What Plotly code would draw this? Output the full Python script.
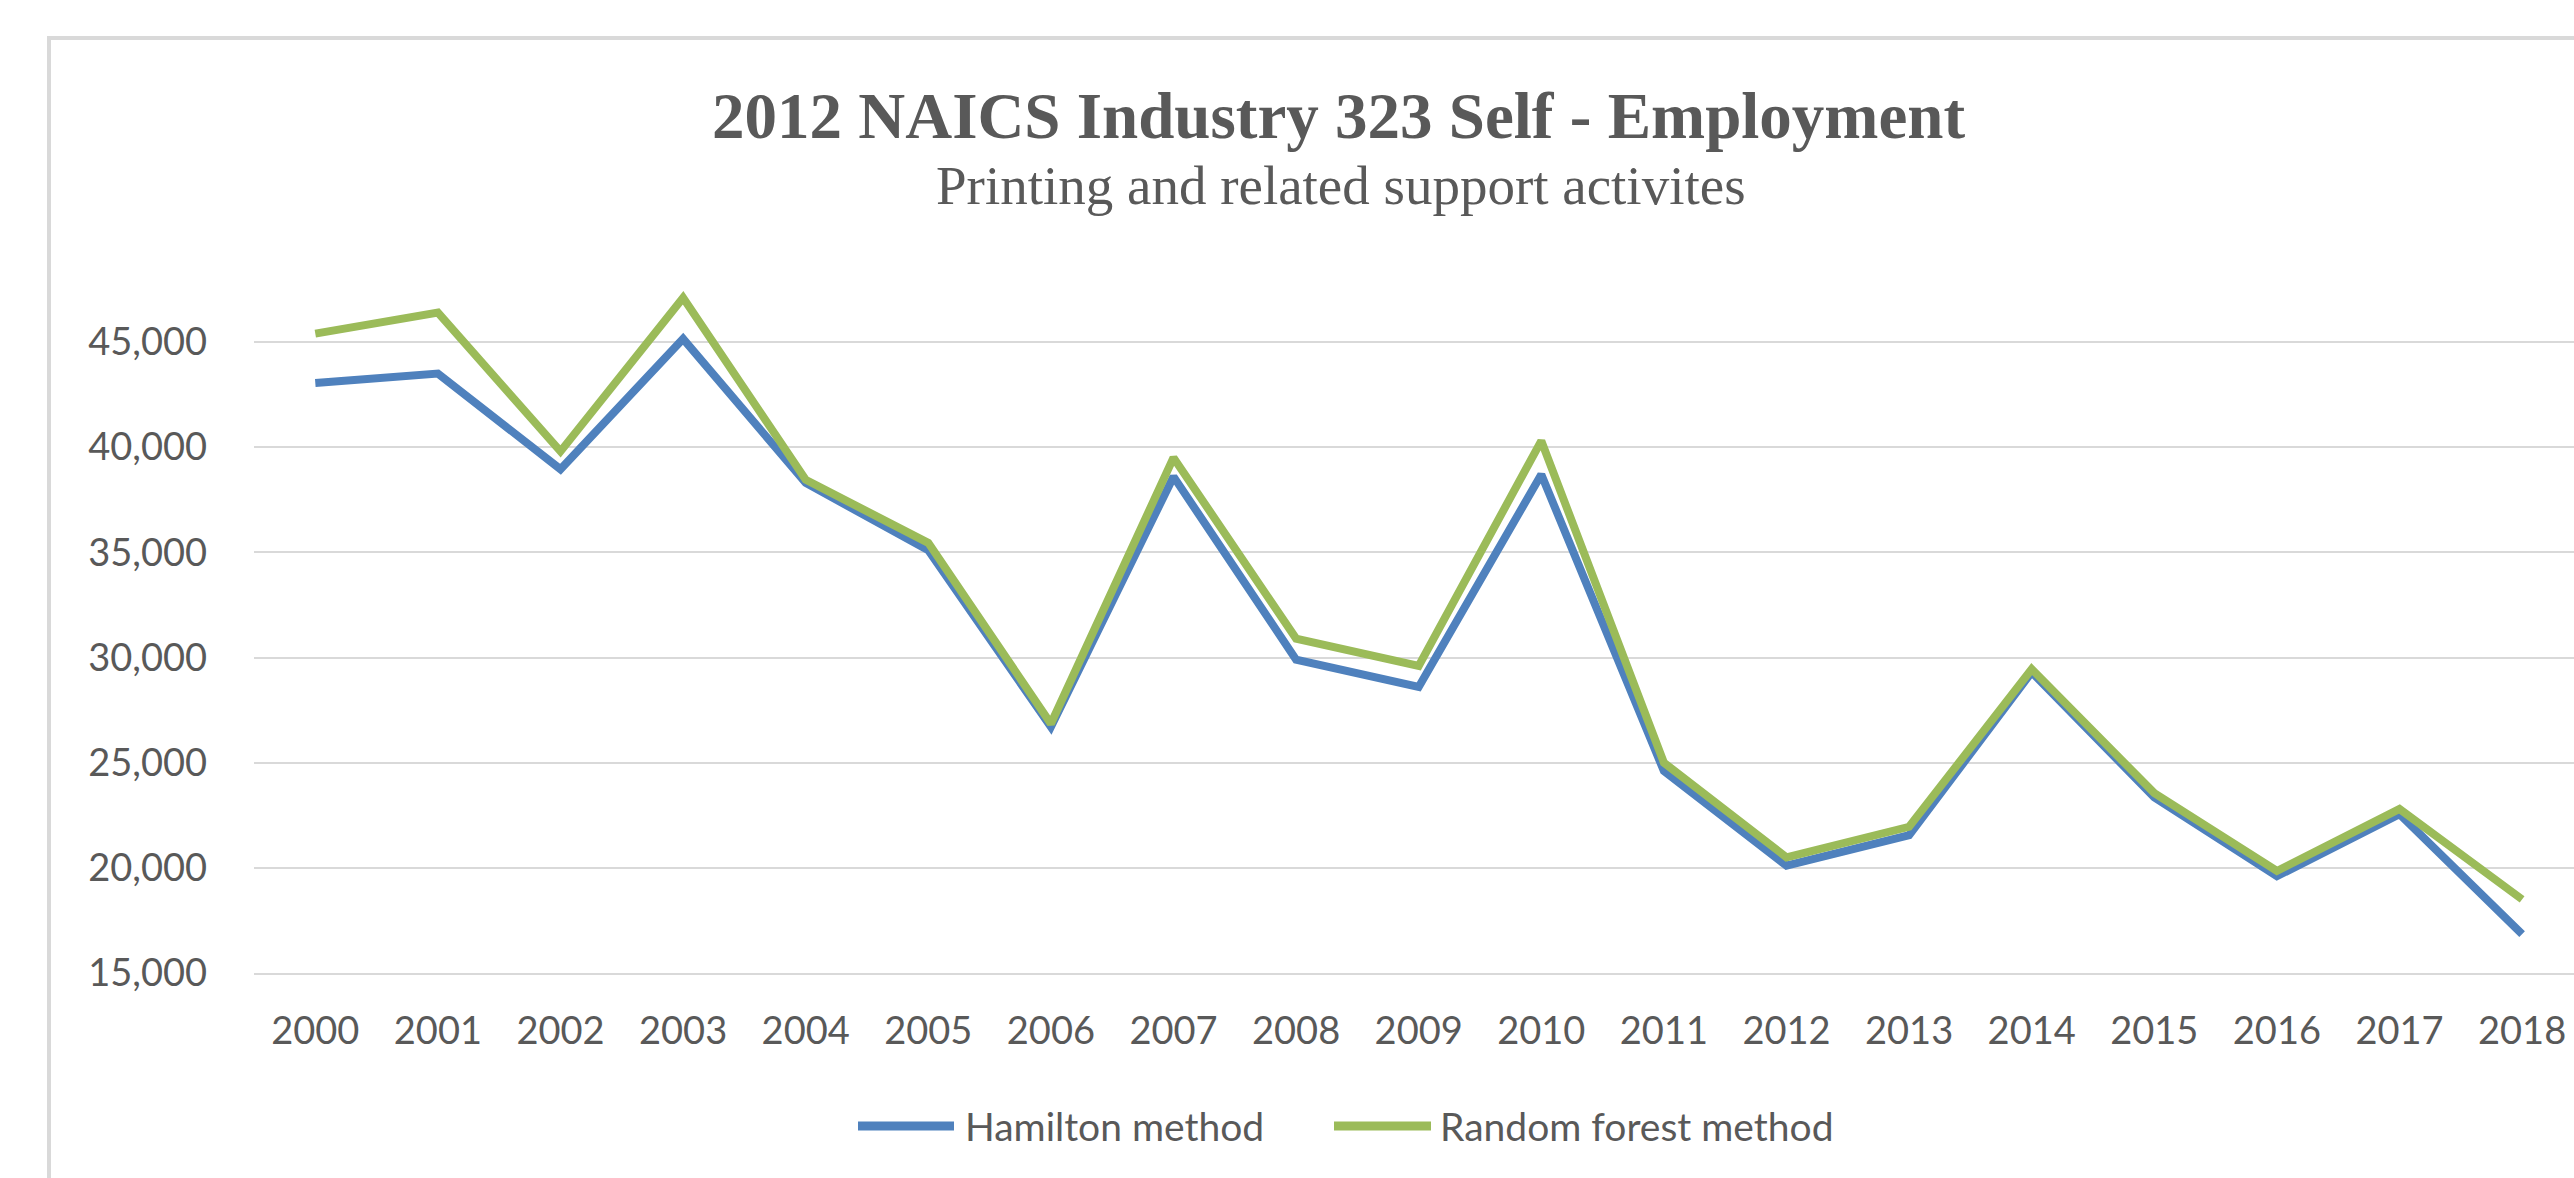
import plotly.graph_objects as go

# Self-employment estimates, NAICS 323 (Printing and related support activities)
years = list(range(2000, 2019))
hamilton = [43050, 43500, 38950, 45150, 38300, 35100, 26700, 38600, 29900, 28600,
            38700, 24600, 20100, 21550, 29300, 23350, 19600, 22550, 16850]
random_forest = [45400, 46400, 39800, 47100, 38450, 35450, 26850, 39500, 30900, 29600,
                 40300, 25000, 20500, 21950, 29450, 23550, 19850, 22800, 18500]

series_names = ["Hamilton method", "Random forest method"]
series_colors = ["#4F81BD", "#9BBB59"]
y_ticks = [15000, 20000, 25000, 30000, 35000, 40000, 45000]

title_text = "2012 NAICS Industry 323 Self - Employment"
subtitle_text = "Printing and related support activites"

W, H = 2574, 1178
ML, MR, MT, MB = 254, 0, 250, 205
plot_w = W - ML - MR
plot_h = H - MT - MB
px_per_cat = 122.6
y_min = 15000
y_max = y_min + plot_h / 0.021033


def px_x(x):
    return (x - ML) / plot_w


def px_y(y):
    return (H - MB - y) / plot_h


fig = go.Figure()
for name, vals, col in zip(series_names, [hamilton, random_forest], series_colors):
    fig.add_trace(go.Scatter(
        x=years, y=vals, name=name, mode="lines",
        line=dict(color=col, width=8),
        showlegend=False,
    ))

tick_font = dict(family="Lato", size=38, color="#595959")

fig.update_layout(
    width=W, height=H,
    margin=dict(l=ML, r=MR, t=MT, b=MB),
    paper_bgcolor="white", plot_bgcolor="white",
    xaxis=dict(
        range=[1999.5, 1999.5 + plot_w / px_per_cat],
        tickvals=years, ticktext=[str(y) for y in years],
        showgrid=False, zeroline=False,
        showline=True, linecolor="#D9D9D9", linewidth=2,
        ticks="", tickfont=tick_font, ticklabelstandoff=23,
    ),
    yaxis=dict(
        range=[y_min, y_max],
        tickvals=y_ticks, tickformat=",d",
        showgrid=True, gridcolor="#D9D9D9", gridwidth=2,
        zeroline=False, showline=False,
        ticks="", tickfont=tick_font, ticklabelstandoff=46,
    ),
    showlegend=False,
)

# Chart border
fig.add_shape(type="rect", xref="paper", yref="paper",
              x0=px_x(49), x1=px_x(2700), y0=px_y(1300), y1=px_y(38),
              line=dict(color="#D9D9D9", width=4), layer="below")

# Titles
fig.add_annotation(text="<b>" + title_text + "</b>", xref="paper", yref="paper",
                   x=px_x(1339), y=px_y(116), xanchor="center", yanchor="middle",
                   showarrow=False,
                   font=dict(family="Liberation Serif", size=65, color="#595959"))
fig.add_annotation(text=subtitle_text, xref="paper", yref="paper",
                   x=px_x(1341), y=px_y(185), xanchor="center", yanchor="middle",
                   showarrow=False,
                   font=dict(family="Liberation Serif", size=55, color="#595959"))

# Legend
legend_y = px_y(1126)
legend_items = [(858, 954, 963), (1334, 1431, 1438)]
for (lx0, lx1, tx), name, col in zip(legend_items, series_names, series_colors):
    fig.add_shape(type="line", xref="paper", yref="paper",
                  x0=px_x(lx0), x1=px_x(lx1), y0=legend_y, y1=legend_y,
                  line=dict(color=col, width=9))
    fig.add_annotation(text=name, xref="paper", yref="paper",
                       x=px_x(tx), y=legend_y, xanchor="left", yanchor="middle",
                       showarrow=False,
                       font=dict(family="Lato", size=39, color="#595959"))

fig.write_html("out.html")
